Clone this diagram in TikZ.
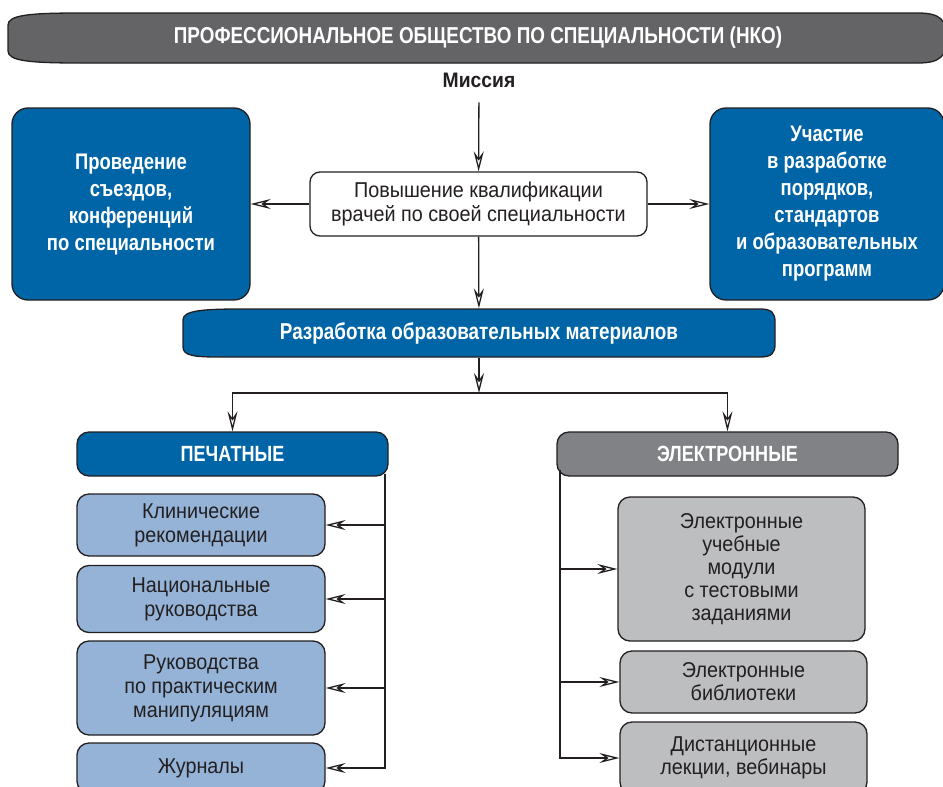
\documentclass[tikz,border=0pt]{standalone}
\usepackage{fontspec}
\setmainfont[FakeStretch=0.82]{Liberation Sans}
\newfontfamily\regfont[FakeStretch=0.92]{Liberation Sans}
\usetikzlibrary{arrows.meta}

\definecolor{linecol}{RGB}{35,31,32}
\definecolor{nkogray}{RGB}{100,100,102}
\definecolor{nkoblue}{RGB}{0,101,166}
\definecolor{lightblue}{RGB}{149,179,215}
\definecolor{midgray}{RGB}{128,130,133}
\definecolor{lightgray}{RGB}{188,190,192}

\tikzset{
  box/.style={draw=linecol, line width=1.3pt, rounded corners=12pt, align=center, inner sep=0pt},
  bigblue/.style={box, fill=nkoblue, text=white, rounded corners=16pt, font=\bfseries\fontsize{22.5}{27}\selectfont},
  head/.style={box, text=white, font=\bfseries\fontsize{22}{24}\selectfont},
  printbox/.style={box, fill=lightblue, text=linecol, font=\regfont\fontsize{21.5}{24}\selectfont},
  ebox/.style={box, fill=lightgray, text=linecol, font=\regfont\fontsize{21.5}{23}\selectfont},
}

\begin{document}
\begin{tikzpicture}[x=1pt,y=-1pt,>={Stealth[open,length=20pt,width=10pt,inset=7pt]},line width=1.3pt,draw=linecol]
\useasboundingbox (0,0) rectangle (943,787);

% top banner
\draw[fill=nkogray] (8,25) .. controls (8,15) and (30,13) .. (80,13) -- (918,13)
  .. controls (940,13) and (947,20) .. (947,38) .. controls (947,56) and (940,63) .. (918,63)
  -- (80,63) .. controls (30,63) and (8,61) .. (8,51) -- cycle;
\node[text=white, font=\bfseries\fontsize{23}{26}\selectfont] (nko) at (478,38) {ПРОФЕССИОНАЛЬНОЕ ОБЩЕСТВО ПО СПЕЦИАЛЬНОСТИ (НКО)};

\node[font=\regfont\bfseries\fontsize{21}{22}\selectfont, text=linecol] (mis) at (479,80) {Миссия};

\node[bigblue, minimum width=238pt, minimum height=192pt] (prov) at (131,204)
  {Проведение\\съездов,\\конференций\\по специальности};
\node[box, fill=white, text=linecol, rounded corners=10pt, minimum width=337pt, minimum height=64pt,
  font=\regfont\fontsize{21.5}{24}\selectfont] (pov) at (478.5,204)
  {Повышение квалификации\\врачей по своей специальности};
\node[bigblue, minimum width=234pt, minimum height=192pt] (uch) at (827,204)
  {Участие\\в разработке\\порядков,\\стандартов\\и образовательных\\программ};

% middle banner
\draw[fill=nkoblue] (183,320) .. controls (183,311) and (200,309) .. (240,309) -- (760,309)
  .. controls (772,309) and (775,313) .. (775,322) -- (775,344) .. controls (775,353) and (772,357) .. (760,357)
  -- (220,357) .. controls (195,357) and (183,356) .. (183,347) -- cycle;
\node[text=white, font=\bfseries\fontsize{23}{24}\selectfont, minimum width=592pt, minimum height=48pt,
  inner sep=0pt] (razr) at (479,333) {Разработка образовательных материалов};

\coordinate (split) at (479,393);

\node[head, fill=nkoblue, minimum width=311pt, minimum height=44pt] (pech) at (232.5,454) {ПЕЧАТНЫЕ};
\node[head, fill=midgray, minimum width=341pt, minimum height=44pt] (elek) at (727.5,454) {ЭЛЕКТРОННЫЕ};

\node[printbox, minimum width=248pt, minimum height=62pt] (klin) at (201,525) {Клинические\\рекомендации};
\node[printbox, minimum width=248pt, minimum height=67pt] (nac) at (201,599) {Национальные\\руководства};
\node[printbox, minimum width=248pt, minimum height=94pt] (ruk) at (201,688)
  {Руководства\\по практическим\\манипуляциям};
\node[printbox, minimum width=248pt, minimum height=50pt] (zhur) at (201,768) {Журналы};

\node[ebox, minimum width=247pt, minimum height=144pt] (emod) at (741.5,569)
  {Электронные\\учебные\\модули\\с тестовыми\\заданиями};
\node[ebox, minimum width=247pt, minimum height=62pt] (ebib) at (743.5,682) {Электронные\\библиотеки};
\node[ebox, minimum width=247pt, minimum height=72pt] (dist) at (743.5,758) {Дистанционные\\лекции, вебинары};

\coordinate (ptop) at (385,474);
\coordinate (etop) at (560,470);

\draw[->, shorten <=11pt] (mis) -- (pov);
\draw[->] (pov) -- (prov);
\draw[->] (pov) -- (uch);
\draw[->] (pov) -- (razr);
\draw[->] (razr) -- (split);
\draw[->] (split) -| (pech);
\draw[->] (split) -| (elek);

\draw[->] (ptop) |- (klin);
\draw[->] (ptop) |- (nac);
\draw[->] (ptop) |- (ruk);
\draw[->] (ptop) |- (zhur);

\draw[->] (etop) |- (emod);
\draw[->] (etop) |- (ebib);
\draw[->] (etop) |- (dist);

\end{tikzpicture}
\end{document}
